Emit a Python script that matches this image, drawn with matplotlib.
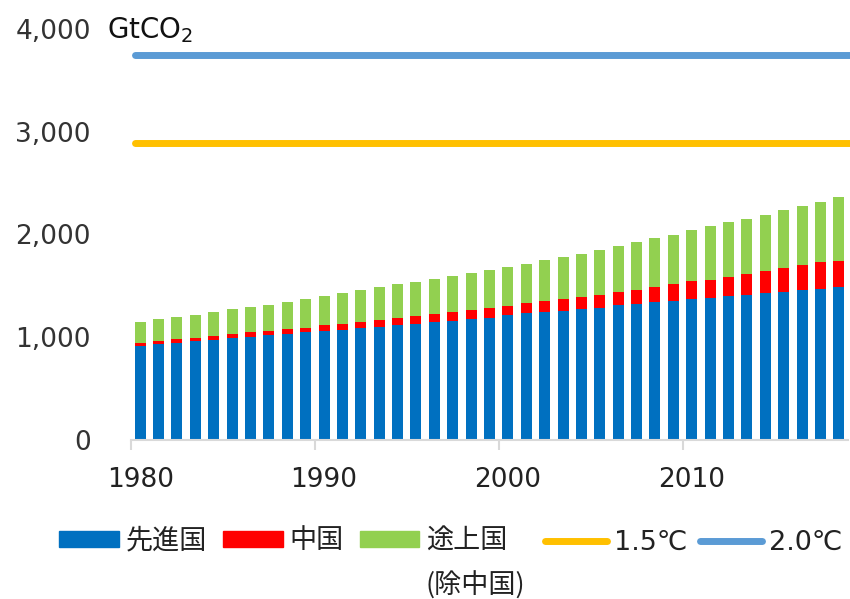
import numpy as np
import matplotlib.pyplot as plt
from matplotlib.patches import Patch
from matplotlib.lines import Line2D

plt.rcParams['font.family'] = ['DejaVu Sans', 'Noto Sans CJK JP']
plt.rcParams['mathtext.fontset'] = 'dejavusans'

# Cumulative CO2 emissions since industrialisation (GtCO2)
years = list(range(1980, 2019))
developed = [915, 930, 944, 959, 973, 988, 1002, 1015, 1031, 1044,
             1056, 1070, 1085, 1099, 1112, 1128, 1144, 1157, 1170, 1186,
             1212, 1228, 1245, 1257, 1270, 1286, 1313, 1325, 1342, 1354,
             1371, 1383, 1396, 1410, 1425, 1439, 1454, 1468, 1484]
china = [29, 29, 31, 31, 32, 40, 42, 44, 44, 46,
         56, 58, 59, 62, 72, 75, 82, 86, 88, 96,
         90, 98, 101, 112, 115, 126, 129, 134, 142, 157,
         170, 173, 187, 203, 217, 230, 243, 257, 258]
others = [197, 211, 221, 224, 234, 240, 244, 254, 263, 276,
          283, 297, 310, 321, 328, 335, 341, 353, 367, 369,
          380, 386, 405, 413, 424, 438, 439, 462, 480, 484,
          497, 523, 536, 537, 550, 566, 580, 593, 624]
budget_15 = 2890
budget_20 = 3750

c_dev = '#0070C0'
c_chn = '#FF0000'
c_oth = '#92D050'
c_15 = '#FFC000'
c_20 = '#5B9BD5'
cjk = ['Noto Sans CJK JP', 'DejaVu Sans']

fig = plt.figure(figsize=(8.5, 5.99), dpi=100)
ax = fig.add_axes([131/850, 1 - 439.5/599, 717/850, (439.5 - 29)/599])

x = np.arange(len(years))
dev = np.array(developed)
chn = np.array(china)
oth = np.array(others)
ax.bar(x, dev, width=0.6, color=c_dev)
ax.bar(x, chn, width=0.6, bottom=dev, color=c_chn)
ax.bar(x, oth, width=0.6, bottom=dev + chn, color=c_oth)

ax.hlines(budget_15, -0.3, 39, color=c_15, lw=5, capstyle='round', clip_on=False)
ax.hlines(budget_20, -0.3, 39, color=c_20, lw=5, capstyle='round', clip_on=False)

ax.set_xlim(-0.5, len(years) - 0.5)
ax.set_ylim(0, 4000)

ax.set_yticks([0, 1000, 2000, 3000, 4000])
ax.set_yticklabels(['0', '1,000', '2,000', '3,000', '4,000'])
ax.tick_params(axis='y', length=0, pad=29, labelsize=19, labelcolor='#333333')

ax.set_xticks([0, 10, 20, 30])
ax.set_xticklabels(['1980', '1990', '2000', '2010'])
ax.set_xticks([-0.5, 9.5, 19.5, 29.5], minor=True)
ax.tick_params(axis='x', which='major', length=0, pad=20, labelsize=19, labelcolor='#222222')
ax.tick_params(axis='x', which='minor', length=7, width=1.5, color='#D9D9D9')

for s in ['left', 'right', 'top']:
    ax.spines[s].set_visible(False)
ax.spines['bottom'].set_color('#D9D9D9')
ax.spines['bottom'].set_linewidth(1.5)

fig.text(107/850, 1 - 30/599, 'GtCO$_2$', fontsize=20, va='center', ha='left', color='#111111')

# legend: stacked regions, then the two budget lines
patches = [Patch(color=c_dev, label='先進国'),
           Patch(color=c_chn, label='中国'),
           Patch(color=c_oth, label='途上国')]
leg1 = fig.legend(handles=patches, loc='center left', bbox_to_anchor=(59/850, 1 - 541/599),
                  ncol=3, frameon=False, prop={'family': cjk, 'size': 19.5},
                  handlelength=2.2, handleheight=0.55,
                  handletextpad=0.25, columnspacing=0.6, borderpad=0, borderaxespad=0)
lines = [Line2D([], [], color=c_15, lw=5, solid_capstyle='round', label='1.5℃'),
         Line2D([], [], color=c_20, lw=5, solid_capstyle='round', label='2.0℃')]
leg2 = fig.legend(handles=lines, loc='center left', bbox_to_anchor=(545/850, 1 - 543/599),
                  ncol=2, frameon=False, fontsize=19.5, handlelength=2.3,
                  handletextpad=0.25, columnspacing=0.45, borderpad=0, borderaxespad=0)
for leg in (leg1, leg2):
    for t in leg.get_texts():
        t.set_color('#222222')
fig.text(425/850, 1 - 586/599, '(除中国)', fontsize=19.5, family=cjk,
         va='center', ha='left', color='#222222')

fig.savefig('out.png', dpi=100)
